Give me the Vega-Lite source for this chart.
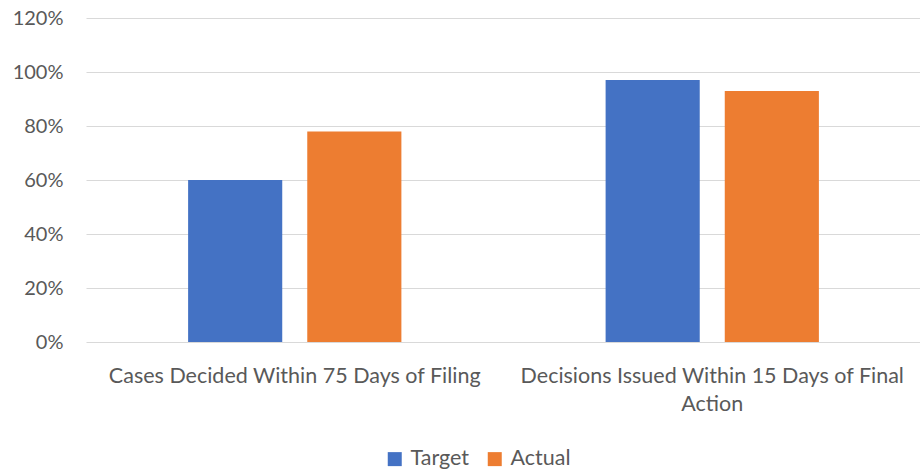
{
  "$schema": "https://vega.github.io/schema/vega-lite/v6.json",
  "autosize": "none",
  "width": 835,
  "height": 324,
  "padding": {"left": 86, "top": 18, "right": 0, "bottom": 134},
  "background": "white",
  "config": {"view": {"stroke": null}, "font": "Lato"},
  "data": {
    "values": [
      {"measure": "Cases Decided Within 75 Days of Filing", "series": "Target", "value": 0.60},
      {"measure": "Cases Decided Within 75 Days of Filing", "series": "Actual", "value": 0.78},
      {"measure": "Decisions Issued Within 15 Days of Final Action", "series": "Target", "value": 0.97},
      {"measure": "Decisions Issued Within 15 Days of Final Action", "series": "Actual", "value": 0.93}
    ]
  },
  "mark": {"type": "bar"},
  "encoding": {
    "x": {
      "field": "measure",
      "type": "nominal",
      "sort": null,
      "scale": {"paddingInner": 0, "paddingOuter": 0},
      "axis": {
        "title": null,
        "labelAngle": 0,
        "domain": false,
        "ticks": false,
        "labelFontSize": 21.5,
        "labelColor": "#595959",
        "labelPadding": 23,
        "labelLimit": 0,
        "labelLineHeight": 28,
        "labelExpr": "datum.label == 'Decisions Issued Within 15 Days of Final Action' ? ['Decisions Issued Within 15 Days of Final', 'Action'] : datum.label"
      }
    },
    "xOffset": {
      "field": "series",
      "type": "nominal",
      "sort": ["Target", "Actual"],
      "scale": {"paddingInner": 0.21, "paddingOuter": 0.857}
    },
    "y": {
      "field": "value",
      "type": "quantitative",
      "scale": {"domain": [0, 1.2]},
      "axis": {
        "title": null,
        "format": ".0%",
        "values": [0, 0.2, 0.4, 0.6, 0.8, 1.0, 1.2],
        "domain": false,
        "ticks": false,
        "gridColor": "#d9d9d9",
        "gridWidth": 1,
        "labelFontSize": 20,
        "labelColor": "#595959",
        "labelPadding": 23
      }
    },
    "color": {
      "field": "series",
      "type": "nominal",
      "sort": ["Target", "Actual"],
      "scale": {"domain": ["Target", "Actual"], "range": ["#4472C4", "#ED7D31"]},
      "legend": {
        "title": null,
        "orient": "none",
        "direction": "horizontal",
        "legendX": 298,
        "legendY": 430,
        "symbolType": "square",
        "symbolSize": 196,
        "symbolStrokeWidth": 0,
        "symbolOpacity": 1,
        "labelFontSize": 21.5,
        "labelColor": "#595959",
        "labelOffset": 5,
        "columnPadding": 14
      }
    }
  }
}
